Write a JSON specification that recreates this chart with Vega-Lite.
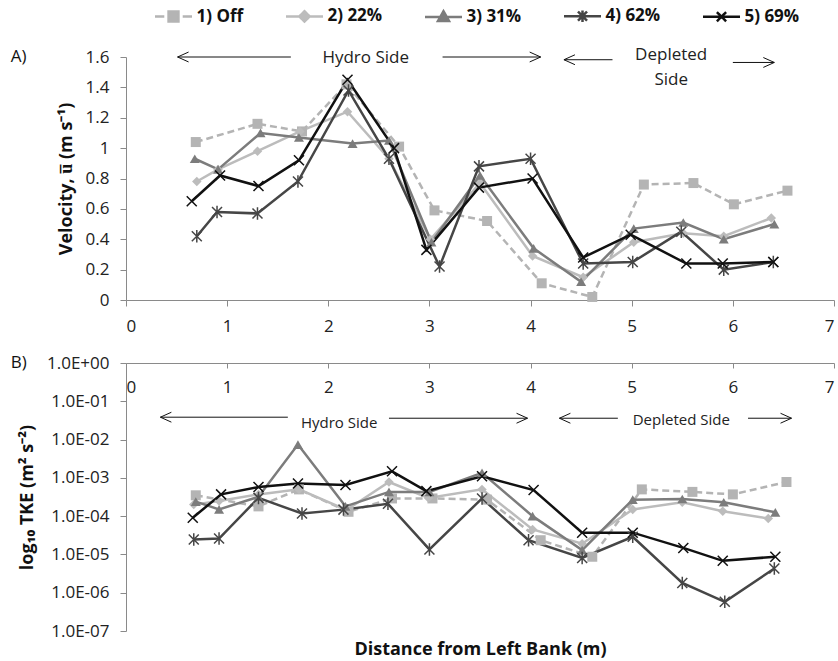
{
  "$schema": "https://vega.github.io/schema/vega-lite/v6.json",
  "background": "white",
  "padding": {"left": 10, "top": 3, "right": 5, "bottom": 0},
  "config": {
    "font": "Open Sans",
    "view": {"stroke": null},
    "axis": {
      "grid": false,
      "domainColor": "#8a8a8a",
      "tickColor": "#8a8a8a",
      "tickSize": 6,
      "labelOverlap": false,
      "labelFont": "Open Sans",
      "labelFontSize": 17,
      "labelColor": "#222222",
      "titleFont": "Open Sans",
      "titleFontSize": 18,
      "titleFontWeight": "bold",
      "titleColor": "#111111"
    }
  },
  "datasets": {
    "vel": [
      {"s": "1) Off", "x": 0.69, "v": 1.04}, {"s": "1) Off", "x": 1.30, "v": 1.16}, {"s": "1) Off", "x": 1.74, "v": 1.11}, {"s": "1) Off", "x": 2.18, "v": 1.42}, {"s": "1) Off", "x": 2.70, "v": 1.01}, {"s": "1) Off", "x": 3.05, "v": 0.59}, {"s": "1) Off", "x": 3.57, "v": 0.52}, {"s": "1) Off", "x": 4.11, "v": 0.11}, {"s": "1) Off", "x": 4.61, "v": 0.02}, {"s": "1) Off", "x": 5.12, "v": 0.76}, {"s": "1) Off", "x": 5.61, "v": 0.77}, {"s": "1) Off", "x": 6.01, "v": 0.63}, {"s": "1) Off", "x": 6.54, "v": 0.72},
      {"s": "2) 22%", "x": 0.70, "v": 0.78}, {"s": "2) 22%", "x": 0.91, "v": 0.86}, {"s": "2) 22%", "x": 1.30, "v": 0.98}, {"s": "2) 22%", "x": 1.72, "v": 1.11}, {"s": "2) 22%", "x": 2.19, "v": 1.24}, {"s": "2) 22%", "x": 2.60, "v": 0.93}, {"s": "2) 22%", "x": 3.01, "v": 0.40}, {"s": "2) 22%", "x": 3.50, "v": 0.77}, {"s": "2) 22%", "x": 4.02, "v": 0.29}, {"s": "2) 22%", "x": 4.52, "v": 0.15}, {"s": "2) 22%", "x": 5.02, "v": 0.38}, {"s": "2) 22%", "x": 5.51, "v": 0.44}, {"s": "2) 22%", "x": 5.91, "v": 0.42}, {"s": "2) 22%", "x": 6.38, "v": 0.54},
      {"s": "3) 31%", "x": 0.68, "v": 0.93}, {"s": "3) 31%", "x": 0.91, "v": 0.86}, {"s": "3) 31%", "x": 1.33, "v": 1.10}, {"s": "3) 31%", "x": 1.71, "v": 1.07}, {"s": "3) 31%", "x": 2.24, "v": 1.03}, {"s": "3) 31%", "x": 2.60, "v": 1.05}, {"s": "3) 31%", "x": 3.02, "v": 0.38}, {"s": "3) 31%", "x": 3.50, "v": 0.82}, {"s": "3) 31%", "x": 4.03, "v": 0.34}, {"s": "3) 31%", "x": 4.50, "v": 0.12}, {"s": "3) 31%", "x": 5.02, "v": 0.47}, {"s": "3) 31%", "x": 5.51, "v": 0.51}, {"s": "3) 31%", "x": 5.91, "v": 0.40}, {"s": "3) 31%", "x": 6.41, "v": 0.50},
      {"s": "4) 62%", "x": 0.70, "v": 0.42}, {"s": "4) 62%", "x": 0.90, "v": 0.58}, {"s": "4) 62%", "x": 1.30, "v": 0.57}, {"s": "4) 62%", "x": 1.70, "v": 0.78}, {"s": "4) 62%", "x": 2.20, "v": 1.38}, {"s": "4) 62%", "x": 2.60, "v": 0.93}, {"s": "4) 62%", "x": 3.10, "v": 0.22}, {"s": "4) 62%", "x": 3.49, "v": 0.88}, {"s": "4) 62%", "x": 4.00, "v": 0.93}, {"s": "4) 62%", "x": 4.52, "v": 0.24}, {"s": "4) 62%", "x": 5.01, "v": 0.25}, {"s": "4) 62%", "x": 5.49, "v": 0.45}, {"s": "4) 62%", "x": 5.91, "v": 0.20}, {"s": "4) 62%", "x": 6.40, "v": 0.25},
      {"s": "5) 69%", "x": 0.65, "v": 0.65}, {"s": "5) 69%", "x": 0.93, "v": 0.82}, {"s": "5) 69%", "x": 1.31, "v": 0.75}, {"s": "5) 69%", "x": 1.71, "v": 0.92}, {"s": "5) 69%", "x": 2.19, "v": 1.45}, {"s": "5) 69%", "x": 2.65, "v": 1.00}, {"s": "5) 69%", "x": 2.97, "v": 0.33}, {"s": "5) 69%", "x": 3.49, "v": 0.74}, {"s": "5) 69%", "x": 4.02, "v": 0.80}, {"s": "5) 69%", "x": 4.52, "v": 0.28}, {"s": "5) 69%", "x": 4.99, "v": 0.43}, {"s": "5) 69%", "x": 5.54, "v": 0.24}, {"s": "5) 69%", "x": 5.90, "v": 0.24}, {"s": "5) 69%", "x": 6.40, "v": 0.25}
    ],
    "tke": [
      {"s": "1) Off", "x": 0.69, "k": 3.5e-4}, {"s": "1) Off", "x": 1.31, "k": 1.8e-4}, {"s": "1) Off", "x": 1.71, "k": 5.0e-4}, {"s": "1) Off", "x": 2.20, "k": 1.3e-4}, {"s": "1) Off", "x": 2.63, "k": 2.9e-4}, {"s": "1) Off", "x": 3.03, "k": 2.9e-4}, {"s": "1) Off", "x": 3.57, "k": 2.7e-4}, {"s": "1) Off", "x": 4.10, "k": 2.35e-5}, {"s": "1) Off", "x": 4.61, "k": 8.7e-6}, {"s": "1) Off", "x": 5.10, "k": 5.0e-4}, {"s": "1) Off", "x": 5.60, "k": 4.3e-4}, {"s": "1) Off", "x": 6.00, "k": 3.7e-4}, {"s": "1) Off", "x": 6.53, "k": 7.8e-4},
      {"s": "2) 22%", "x": 0.67, "k": 2.0e-4}, {"s": "2) 22%", "x": 0.92, "k": 2.5e-4}, {"s": "2) 22%", "x": 1.31, "k": 3.7e-4}, {"s": "2) 22%", "x": 1.71, "k": 5.0e-4}, {"s": "2) 22%", "x": 2.18, "k": 1.45e-4}, {"s": "2) 22%", "x": 2.60, "k": 7.8e-4}, {"s": "2) 22%", "x": 2.99, "k": 3.0e-4}, {"s": "2) 22%", "x": 3.52, "k": 5.0e-4}, {"s": "2) 22%", "x": 4.02, "k": 4.5e-5}, {"s": "2) 22%", "x": 4.51, "k": 1.9e-5}, {"s": "2) 22%", "x": 5.01, "k": 1.5e-4}, {"s": "2) 22%", "x": 5.50, "k": 2.3e-4}, {"s": "2) 22%", "x": 5.90, "k": 1.35e-4}, {"s": "2) 22%", "x": 6.35, "k": 8.7e-5},
      {"s": "3) 31%", "x": 0.69, "k": 2.4e-4}, {"s": "3) 31%", "x": 0.92, "k": 1.5e-4}, {"s": "3) 31%", "x": 1.31, "k": 3.2e-4}, {"s": "3) 31%", "x": 1.70, "k": 7.4e-3}, {"s": "3) 31%", "x": 2.17, "k": 1.8e-4}, {"s": "3) 31%", "x": 2.60, "k": 4.3e-4}, {"s": "3) 31%", "x": 3.00, "k": 4.3e-4}, {"s": "3) 31%", "x": 3.52, "k": 1.35e-3}, {"s": "3) 31%", "x": 4.02, "k": 1.0e-4}, {"s": "3) 31%", "x": 4.51, "k": 1.3e-5}, {"s": "3) 31%", "x": 5.01, "k": 2.7e-4}, {"s": "3) 31%", "x": 5.50, "k": 2.8e-4}, {"s": "3) 31%", "x": 5.91, "k": 2.3e-4}, {"s": "3) 31%", "x": 6.42, "k": 1.26e-4},
      {"s": "4) 62%", "x": 0.67, "k": 2.45e-5}, {"s": "4) 62%", "x": 0.92, "k": 2.6e-5}, {"s": "4) 62%", "x": 1.31, "k": 3.0e-4}, {"s": "4) 62%", "x": 1.74, "k": 1.17e-4}, {"s": "4) 62%", "x": 2.15, "k": 1.48e-4}, {"s": "4) 62%", "x": 2.59, "k": 2.1e-4}, {"s": "4) 62%", "x": 3.00, "k": 1.35e-5}, {"s": "4) 62%", "x": 3.52, "k": 2.9e-4}, {"s": "4) 62%", "x": 3.98, "k": 2.35e-5}, {"s": "4) 62%", "x": 4.51, "k": 8.1e-6}, {"s": "4) 62%", "x": 5.01, "k": 2.9e-5}, {"s": "4) 62%", "x": 5.50, "k": 1.8e-6}, {"s": "4) 62%", "x": 5.92, "k": 5.8e-7}, {"s": "4) 62%", "x": 6.41, "k": 4.3e-6},
      {"s": "5) 69%", "x": 0.66, "k": 9.1e-5}, {"s": "5) 69%", "x": 0.94, "k": 3.7e-4}, {"s": "5) 69%", "x": 1.31, "k": 5.75e-4}, {"s": "5) 69%", "x": 1.70, "k": 7.1e-4}, {"s": "5) 69%", "x": 2.17, "k": 6.5e-4}, {"s": "5) 69%", "x": 2.63, "k": 1.48e-3}, {"s": "5) 69%", "x": 2.97, "k": 4.5e-4}, {"s": "5) 69%", "x": 3.52, "k": 1.1e-3}, {"s": "5) 69%", "x": 4.03, "k": 4.8e-4}, {"s": "5) 69%", "x": 4.51, "k": 3.7e-5}, {"s": "5) 69%", "x": 5.01, "k": 3.7e-5}, {"s": "5) 69%", "x": 5.51, "k": 1.48e-5}, {"s": "5) 69%", "x": 5.90, "k": 6.8e-6}, {"s": "5) 69%", "x": 6.42, "k": 8.7e-6}
    ],
    "ruleA": [
      {"x": 0.51, "x2": 1.63, "v": 1.6}, {"x": 3.13, "x2": 4.10, "v": 1.6},
      {"x": 4.33, "x2": 4.81, "v": 1.582}, {"x": 6.0, "x2": 6.41, "v": 1.564}
    ],
    "headA": [
      {"x": 0.51, "v": 1.6, "d": "L"}, {"x": 4.10, "v": 1.6, "d": "R"},
      {"x": 4.33, "v": 1.582, "d": "L"}, {"x": 6.41, "v": 1.564, "d": "R"}
    ],
    "textA": [
      {"x": 2.37, "v": 1.593, "t": "Hydro Side"},
      {"x": 5.39, "v": 1.615, "t": "Depleted"},
      {"x": 5.39, "v": 1.45, "t": "Side"}
    ],
    "panelA": [{"x": -1.14, "v": 1.6, "t": "A)"}],
    "ruleB": [
      {"x": 0.34, "x2": 1.6, "k": 0.0384}, {"x": 2.6, "x2": 3.97, "k": 0.0361},
      {"x": 4.285, "x2": 4.863, "k": 0.0361}, {"x": 6.15, "x2": 6.58, "k": 0.0361}
    ],
    "headB": [
      {"x": 0.34, "k": 0.0384, "d": "L"}, {"x": 3.97, "k": 0.0361, "d": "R"},
      {"x": 4.285, "k": 0.0361, "d": "L"}, {"x": 6.58, "k": 0.0361, "d": "R"}
    ],
    "textB": [
      {"x": 2.107, "k": 0.0267, "t": "Hydro Side"},
      {"x": 5.49, "k": 0.0327, "t": "Depleted Side"}
    ],
    "panelB": [{"x": -1.14, "k": 1, "t": "B)"}]
  },
  "spacing": 63,
  "bounds": "flush",
  "vconcat": [
    {
      "width": 708,
      "height": 243,
      "encoding": {
        "x": {"field": "x", "type": "quantitative", "scale": {"domain": [0, 7], "nice": false},
              "axis": {"values": [0, 1, 2, 3, 4, 5, 6, 7], "title": null, "labelPadding": 12, "format": "d", "labelOverlap": false}},
        "y": {"field": "v", "type": "quantitative", "scale": {"domain": [0, 1.6], "nice": false},
              "axis": {"values": [0, 0.2, 0.4, 0.6, 0.8, 1, 1.2, 1.4, 1.6], "tickCount": 9, "format": ".1~f", "labelPadding": 11, "titlePadding": 10,
                       "labelOverlap": false, "labelFlush": false,
                       "title": "Velocity, u̅ (m s⁻¹)"}}
      },
      "layer": [
        {
          "data": {"name": "vel"},
          "transform": [{"filter": "datum.s === '1) Off'"}],
          "mark": {"type": "line", "strokeWidth": 2.5, "strokeDash": [7, 4]},
          "encoding": {
            "color": {"field": "s", "type": "nominal",
                      "scale": {"domain": ["1) Off", "2) 22%", "3) 31%", "4) 62%", "5) 69%"],
                                "range": ["#b4b4b4", "#bcbcbc", "#7c7c7c", "#464646", "#111111"]},
                      "legend": {
                        "orient": "none", "legendX": 34.5, "legendY": -54, "direction": "horizontal", "title": null,
                        "padding": 0, "symbolSize": 529, "symbolStrokeWidth": 2.5, "labelOffset": 10,
                        "columnPadding": 37, "labelFont": "Open Sans", "labelFontSize": 17, "labelFontWeight": "bold",
                        "labelColor": "#111111",
                        "encode": {"symbols": {"update": {
                          "shape": {"signal": "datum.value === '1) Off' ? 'M-1.61,0L-0.8,0M0.8,0L1.61,0M-0.43,-0.43L0.43,-0.43L0.43,0.43L-0.43,0.43Z' : datum.value === '2) 22%' ? 'M-1.61,0L1.61,0M0,-0.45L0.45,0L0,0.45L-0.45,0Z' : datum.value === '3) 31%' ? 'M-1.61,0L1.61,0M0,-0.5L0.48,0.35L-0.48,0.35Z' : datum.value === '4) 62%' ? 'M-1.61,0L1.61,0M-0.4,-0.4L0.4,0.4M-0.4,0.4L0.4,-0.4M0,-0.5L0,0.5' : 'M-1.61,0L1.61,0M-0.4,-0.4L0.4,0.4M-0.4,0.4L0.4,-0.4'"},
                          "fill": {"signal": "datum.value === '4) 62%' || datum.value === '5) 69%' ? 'transparent' : scale('color', datum.value)"},
                          "stroke": {"signal": "scale('color', datum.value)"},
                          "strokeWidth": {"value": 2.5},
                          "strokeDash": {"value": [1, 0]},
                          "opacity": {"value": 1}
                        }}}
                      }}
          }
        },
        {
          "data": {"name": "vel"},
          "transform": [{"filter": "datum.s !== '1) Off'"}],
          "mark": {"type": "line", "strokeWidth": 2.5},
          "encoding": {"color": {"field": "s", "type": "nominal"}}
        },
        {
          "data": {"name": "vel"},
          "transform": [{"filter": "datum.s === '1) Off'"}],
          "mark": {"type": "point", "shape": "square", "filled": true, "size": 100, "color": "#b4b4b4", "opacity": 1}
        },
        {
          "data": {"name": "vel"},
          "transform": [{"filter": "datum.s === '2) 22%'"}],
          "mark": {"type": "point", "shape": "diamond", "filled": true, "size": 90, "color": "#bcbcbc", "opacity": 1}
        },
        {
          "data": {"name": "vel"},
          "transform": [{"filter": "datum.s === '3) 31%'"}],
          "mark": {"type": "point", "shape": "triangle-up", "filled": true, "size": 100, "color": "#7c7c7c", "opacity": 1}
        },
        {
          "data": {"name": "vel"},
          "transform": [{"filter": "datum.s === '4) 62%'"}],
          "mark": {"type": "point", "shape": "M-1,-1L1,1M-1,1L1,-1M0,-1.25L0,1.25", "filled": false, "size": 100, "strokeWidth": 1.5, "color": "#464646", "opacity": 1}
        },
        {
          "data": {"name": "vel"},
          "transform": [{"filter": "datum.s === '5) 69%'"}],
          "mark": {"type": "point", "shape": "M-1,-1L1,1M-1,1L1,-1", "filled": false, "size": 100, "strokeWidth": 1.5, "color": "#111111", "opacity": 1}
        },
        {
          "data": {"name": "ruleA"},
          "mark": {"type": "rule", "color": "#111111", "strokeWidth": 1},
          "encoding": {"x2": {"field": "x2"}}
        },
        {
          "data": {"name": "headA"},
          "transform": [{"filter": "datum.d === 'L'"}],
          "mark": {"type": "point", "shape": "M1,-0.45L0,0L1,0.45", "filled": false, "size": 484, "color": "#111111", "strokeWidth": 1, "opacity": 1}
        },
        {
          "data": {"name": "headA"},
          "transform": [{"filter": "datum.d === 'R'"}],
          "mark": {"type": "point", "shape": "M-1,-0.45L0,0L-1,0.45", "filled": false, "size": 484, "color": "#111111", "strokeWidth": 1, "opacity": 1}
        },
        {
          "data": {"name": "textA"},
          "mark": {"type": "text", "fontSize": 17, "color": "#222222", "align": "center", "baseline": "middle"},
          "encoding": {"text": {"field": "t"}}
        },
        {
          "data": {"name": "panelA"},
          "mark": {"type": "text", "fontSize": 17, "color": "#111111", "align": "left", "baseline": "middle"},
          "encoding": {"text": {"field": "t"}}
        }
      ]
    },
    {
      "width": 708,
      "height": 268,
      "encoding": {
        "x": {"field": "x", "type": "quantitative", "scale": {"domain": [0, 7], "nice": false},
              "axis": {"orient": "bottom", "offset": -268, "values": [0, 1, 2, 3, 4, 5, 6, 7], "format": "d",
                       "tickSize": 5, "labelPadding": 11, "labelOverlap": false,
                       "title": "Distance from Left Bank (m)", "titleY": 291.5, "titleBaseline": "alphabetic"}},
        "y": {"field": "k", "type": "quantitative", "scale": {"type": "log", "domain": [1e-7, 1], "nice": false},
              "axis": {"values": [1e-7, 1e-6, 1e-5, 1e-4, 1e-3, 1e-2, 1e-1, 1], "labelPadding": 11, "titlePadding": 10,
                       "labelOverlap": false,
                       "labelExpr": "'1.0E' + (round(log(datum.value)/LN10) < 0 ? '-' : '+') + '0' + abs(round(log(datum.value)/LN10))",
                       "title": "log₁₀ TKE (m² s⁻²)"}}
      },
      "layer": [
        {
          "data": {"name": "tke"},
          "transform": [{"filter": "datum.s === '1) Off'"}],
          "mark": {"type": "line", "strokeWidth": 2.5, "strokeDash": [7, 4]},
          "encoding": {"color": {"field": "s", "type": "nominal"}}
        },
        {
          "data": {"name": "tke"},
          "transform": [{"filter": "datum.s !== '1) Off'"}],
          "mark": {"type": "line", "strokeWidth": 2.5},
          "encoding": {"color": {"field": "s", "type": "nominal"}}
        },
        {
          "data": {"name": "tke"},
          "transform": [{"filter": "datum.s === '1) Off'"}],
          "mark": {"type": "point", "shape": "square", "filled": true, "size": 100, "color": "#b4b4b4", "opacity": 1}
        },
        {
          "data": {"name": "tke"},
          "transform": [{"filter": "datum.s === '2) 22%'"}],
          "mark": {"type": "point", "shape": "diamond", "filled": true, "size": 90, "color": "#bcbcbc", "opacity": 1}
        },
        {
          "data": {"name": "tke"},
          "transform": [{"filter": "datum.s === '3) 31%'"}],
          "mark": {"type": "point", "shape": "triangle-up", "filled": true, "size": 100, "color": "#7c7c7c", "opacity": 1}
        },
        {
          "data": {"name": "tke"},
          "transform": [{"filter": "datum.s === '4) 62%'"}],
          "mark": {"type": "point", "shape": "M-1,-1L1,1M-1,1L1,-1M0,-1.25L0,1.25", "filled": false, "size": 100, "strokeWidth": 1.5, "color": "#464646", "opacity": 1}
        },
        {
          "data": {"name": "tke"},
          "transform": [{"filter": "datum.s === '5) 69%'"}],
          "mark": {"type": "point", "shape": "M-1,-1L1,1M-1,1L1,-1", "filled": false, "size": 100, "strokeWidth": 1.5, "color": "#111111", "opacity": 1}
        },
        {
          "data": {"name": "ruleB"},
          "mark": {"type": "rule", "color": "#111111", "strokeWidth": 1},
          "encoding": {"x2": {"field": "x2"}}
        },
        {
          "data": {"name": "headB"},
          "transform": [{"filter": "datum.d === 'L'"}],
          "mark": {"type": "point", "shape": "M1,-0.45L0,0L1,0.45", "filled": false, "size": 484, "color": "#111111", "strokeWidth": 1, "opacity": 1}
        },
        {
          "data": {"name": "headB"},
          "transform": [{"filter": "datum.d === 'R'"}],
          "mark": {"type": "point", "shape": "M-1,-0.45L0,0L-1,0.45", "filled": false, "size": 484, "color": "#111111", "strokeWidth": 1, "opacity": 1}
        },
        {
          "data": {"name": "textB"},
          "mark": {"type": "text", "fontSize": 15, "color": "#222222", "align": "center", "baseline": "middle"},
          "encoding": {"text": {"field": "t"}}
        },
        {
          "data": {"name": "panelB"},
          "mark": {"type": "text", "fontSize": 17, "color": "#111111", "align": "left", "baseline": "middle"},
          "encoding": {"text": {"field": "t"}}
        }
      ]
    }
  ]
}
